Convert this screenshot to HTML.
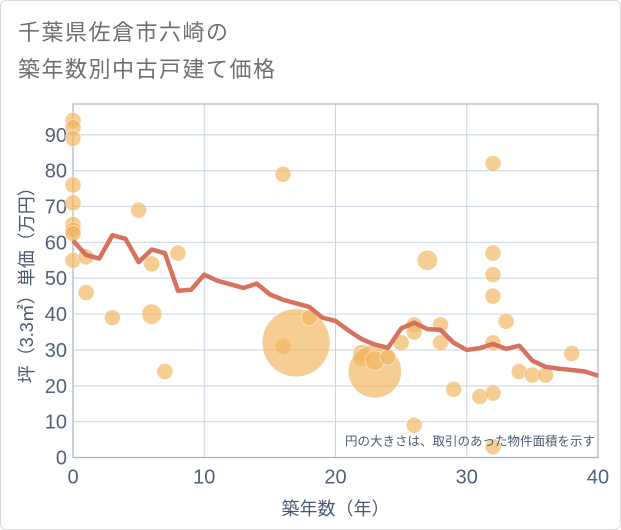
<!DOCTYPE html>
<html><head><meta charset="utf-8">
<style>
html,body{margin:0;padding:0;background:#fff;}
#wrap{position:relative;width:619px;height:528px;border:1px solid #d8d8d8;border-radius:6px;overflow:hidden;font-family:"Liberation Sans","Noto Sans CJK JP",sans-serif;}
#title{position:absolute;left:17px;top:13px;font-size:22px;line-height:37px;color:#707070;letter-spacing:1.5px;font-family:"Liberation Sans","Noto Sans CJK JP",sans-serif;}
svg{position:absolute;left:0;top:0;}
</style></head><body>
<div id="wrap">
<div id="title">千葉県佐倉市六崎の<br>築年数別中古戸建て価格</div>
<svg id="chart" width="621" height="530"></svg>
</div>
<script>
const xTicks=[0,10,20,30,40];
const yTicks=[0,10,20,30,40,50,60,70,80,90];
const lineYears=[0,1,2,3,4,5,6,7,8,9,10,11,12,13,14,15,16,17,18,19,20,21,22,23,24,25,26,27,28,29,30,31,32,33,34,35,36,37,38,39,40];
const lineValues=[60.5,56.5,55.5,62,61,54.5,58,57,46.5,46.8,51,49.3,48.3,47.3,48.5,45.5,44,43,42,39,38.1,35.4,33,31.5,30.6,36,37.6,35.8,35.6,32,30,30.5,31.7,30.3,31.2,27,25.3,24.8,24.4,24,22.8];
const bubbleYears=[0,0,0,0,0,0,0,0,0,1,1,3,5,6,6,7,8,16,16,17,18,22,22,23,23,24,25,26,26,26,27,28,28,29,31,32,32,32,32,32,32,32,33,34,35,36,38];
const bubbleValues=[94,92,89,76,71,65,63.5,62.5,55,56,46,39,69,54,40,24,57,79,31,32,39,29,28,24,27,28,32,37,35,9,55,37,32,19,17,82,57,51,45,32,18,3,38,24,23,23,29];
const bubbleAreas=[1,1,1,1,1,1,1,1,1,1,1,1,1,1,1.6,1,1,1,1,18,1,1.3,1.3,11,1.5,1,1,1,1,1,1.6,1,1,1,1,1,1,1,1,1,1,1,1,1,1,1,1];

const NS="http://www.w3.org/2000/svg";
const svg=document.getElementById('chart');
const L=72,R=597,T=103,B=456.5,XMAX=40,YMAX=98.6;
const xs=v=>L+(R-L)*v/XMAX;
const ys=v=>B-(B-T)*v/YMAX;
function mk(tag,attrs){const e=document.createElementNS(NS,tag);for(const k in attrs)e.setAttribute(k,attrs[k]);svg.appendChild(e);return e;}

yTicks.forEach(t=>{
  const g=mk('line',{x1:L,x2:R,y1:ys(t),y2:ys(t),stroke:'#d3dde9','stroke-width':1.3});
  
  
  const tx=mk('text',{x:L-6,y:ys(t)+7,'text-anchor':'end','font-size':20,fill:'#52627a'});
  tx.textContent=t;
  
  
});
xTicks.forEach(t=>{
  const g=mk('line',{x1:xs(t),x2:xs(t),y1:T,y2:B,stroke:'#c8d3e0','stroke-width':1});
  
  
  const tx=mk('text',{x:xs(t),y:B+26,'text-anchor':'middle','font-size':20,fill:'#52627a'});
  tx.textContent=t;
  
  
});
const frame=mk('rect',{x:L,y:T,width:R-L,height:B-T,fill:'none',stroke:'#a8b4c2','stroke-width':1.2});



bubbleYears.forEach((yr,i)=>{
  const r=8*Math.sqrt(bubbleAreas[i]);
  const c=mk('circle',{cx:xs(yr),cy:ys(bubbleValues[i]),r:r,fill:'#f2b660','fill-opacity':0.68,stroke:'#fff','stroke-width':0.8,'stroke-opacity':0.6});
  
  
});

const pts=lineYears.map((y,i)=>xs(y)+','+ys(lineValues[i])).join(' ');
const pl=mk('polyline',{points:pts,fill:'none',stroke:'#d56a55','stroke-width':4.5,'stroke-linejoin':'round','stroke-opacity':0.95});



const note=mk('text',{x:R-3,y:B-12,'text-anchor':'end','font-size':12.5,fill:'#4a5a70'});
note.textContent='円の大きさは、取引のあった物件面積を示す';



const xt=mk('text',{x:(L+R)/2,y:514,'text-anchor':'middle','font-size':18,fill:'#4a5a70'});
xt.textContent='築年数（年）';



const yt=mk('text',{x:0,y:0,'text-anchor':'middle','font-size':18,fill:'#4a5a70',transform:'translate(32,'+((T+B)/2)+') rotate(-90)'});
yt.textContent='坪（3.3㎡）単価（万円）';


</script>
</body></html>
